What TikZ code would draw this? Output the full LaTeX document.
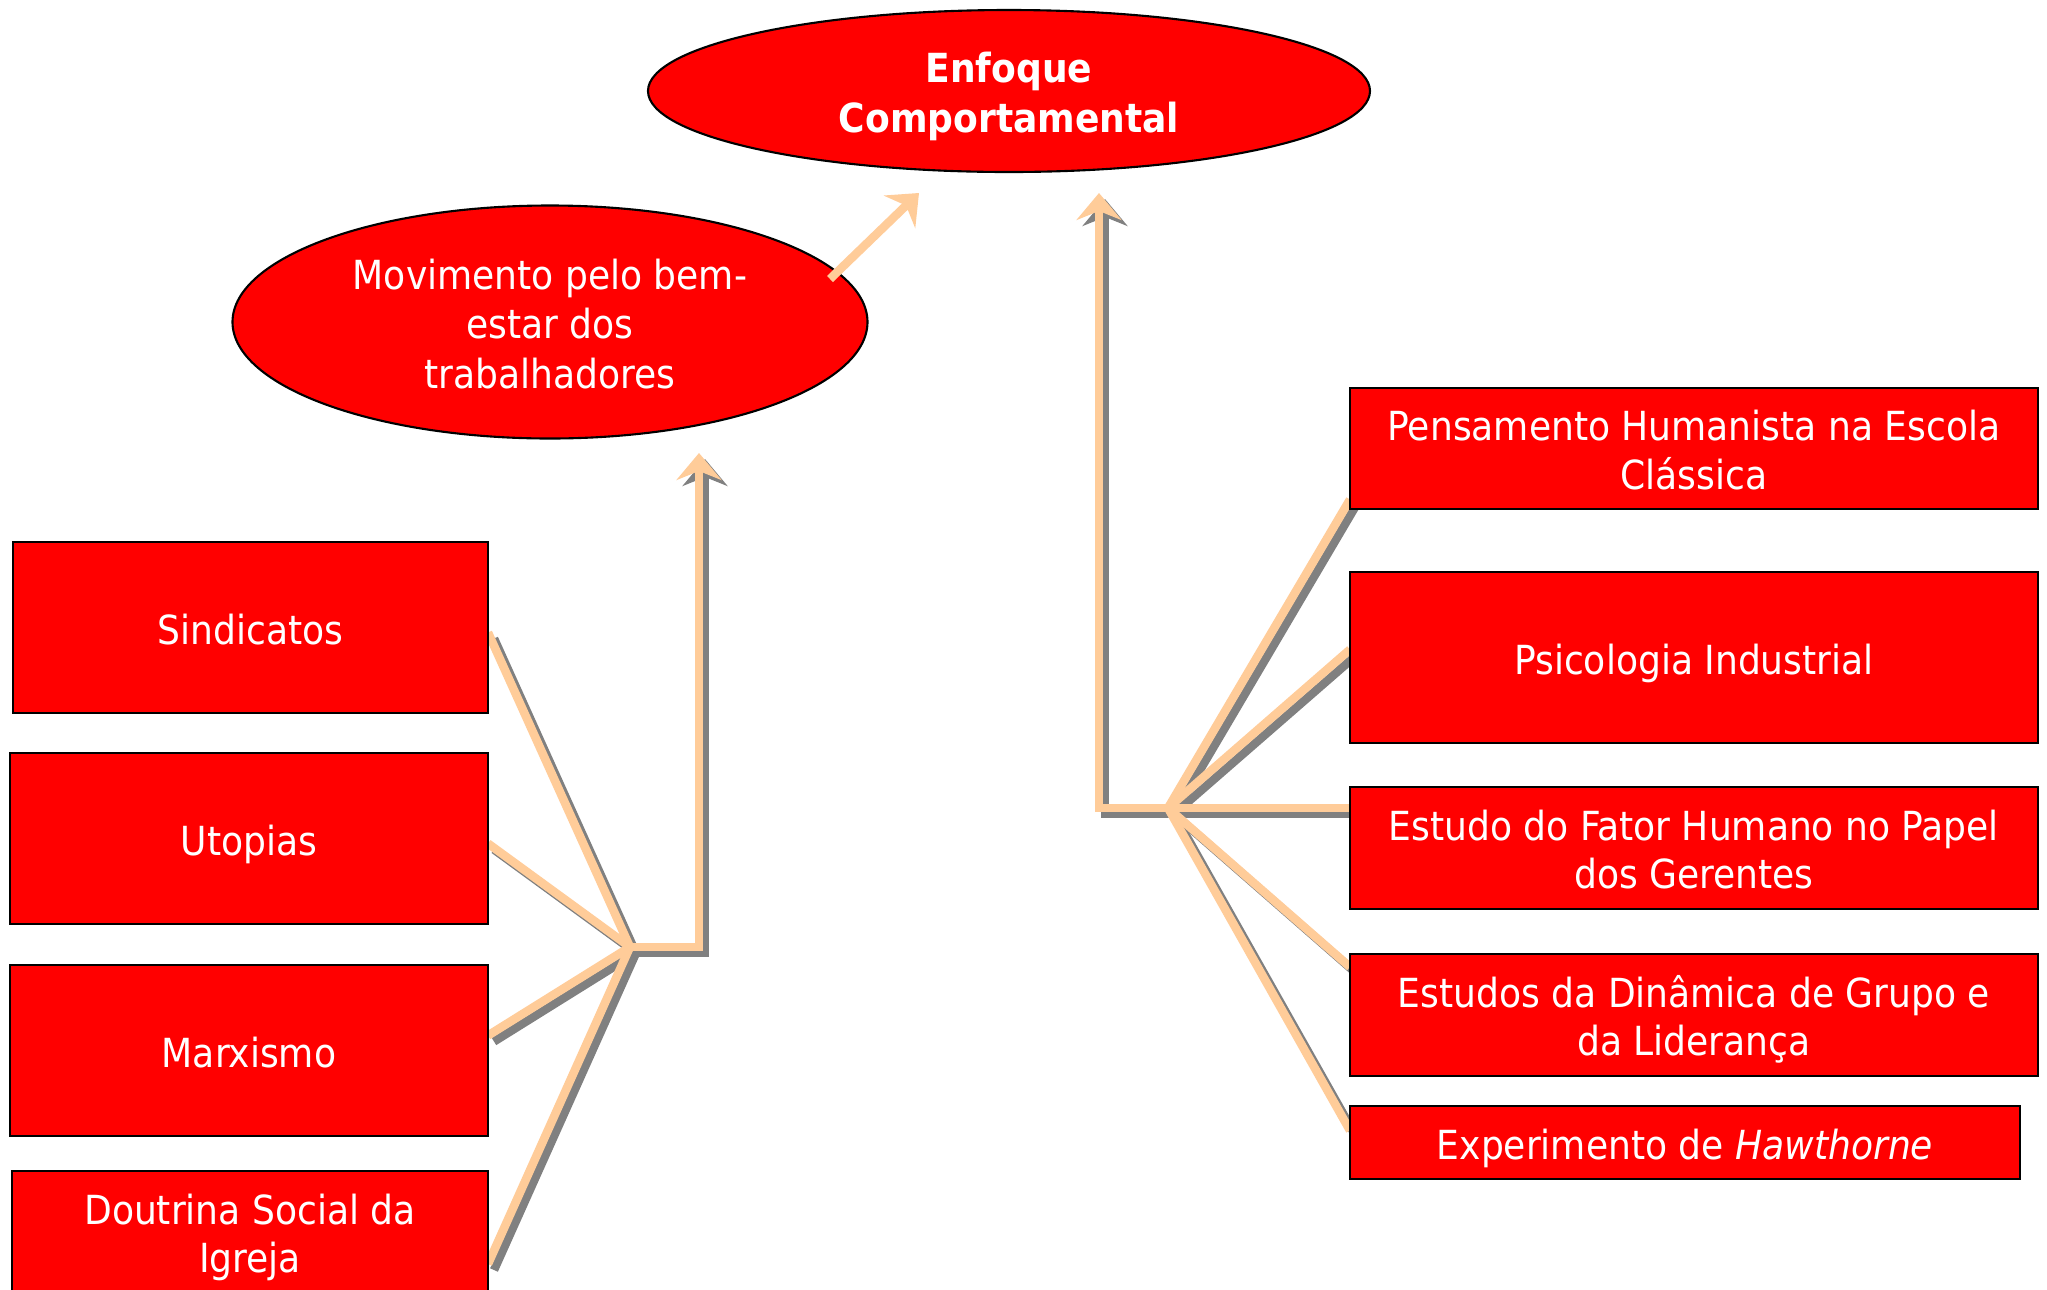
\documentclass[tikz,border=0pt]{standalone}
\usepackage{fontspec}
\setmainfont{DejaVuSansCondensed.ttf}[BoldFont=DejaVuSansCondensed-Bold.ttf,ItalicFont=DejaVuSansCondensed-Oblique.ttf]
\usetikzlibrary{shapes.geometric,arrows.meta,calc}
\definecolor{boxred}{HTML}{FF0000}
\definecolor{peach}{HTML}{FFCC99}
\definecolor{shadowgray}{HTML}{808080}
\pgfdeclarelayer{background}
\pgfsetlayers{background,main}
\newcommand\boxfont{\fontsize{11.4pt}{13.75pt}\selectfont}
\newcommand\ellfont{\fontsize{11.4pt}{14.1pt}\selectfont}
\newcommand\tb[1]{\rule{0pt}{12.44pt}#1\rule[-3pt]{0pt}{3pt}}
\begin{document}
\begin{tikzpicture}[x=0.01cm,y=-0.01cm,
  box/.style={draw=black,line width=0.6pt,fill=boxred,text=white,inner sep=0pt,outer sep=0pt,
    anchor=north west,align=center,font=\boxfont},
  ell/.style={ellipse,draw=black,line width=0.6pt,fill=boxred,text=white,inner sep=0pt,outer sep=0pt,
    align=center,font=\ellfont},
  peachline/.style={draw=peach,line width=0.085cm},
  shadowline/.style={draw=shadowgray,line width=0.085cm,transform canvas={shift={(0.06cm,-0.06cm)}}},
  tip/.style={-{Stealth[length=0.27cm,width=0.45cm,inset=0.09cm]}}
]
\useasboundingbox (0,0) rectangle (2047,1290);
\begin{pgfonlayer}{background}
\fill[white] (0,0) rectangle (2047,1290);
\end{pgfonlayer}

% ellipses
\node[ell,minimum width=722*0.01cm,minimum height=162*0.01cm] (enf) at (1009,91) {\tb{\textbf{Enfoque}\\\textbf{Comportamental}}};
\node[ell,minimum width=635*0.01cm,minimum height=233*0.01cm] (mov) at (550,322) {\tb{Movimento pelo bem-\\estar dos\\trabalhadores}};

% left boxes
\node[box,minimum width=475*0.01cm,minimum height=171*0.01cm] (sind) at (13,542) {\tb{Sindicatos}};
\node[box,minimum width=478*0.01cm,minimum height=171*0.01cm] (utop) at (10,753) {\tb{Utopias}};
\node[box,minimum width=478*0.01cm,minimum height=171*0.01cm] (marx) at (10,965) {\tb{Marxismo}};
\node[box,minimum width=476*0.01cm,minimum height=122*0.01cm] (dout) at (12,1171) {\tb{Doutrina Social da\\Igreja}};

% right boxes
\node[box,minimum width=688*0.01cm,minimum height=121*0.01cm] (pens) at (1350,388) {\tb{Pensamento Humanista na Escola\\Clássica}};
\node[box,minimum width=688*0.01cm,minimum height=171*0.01cm] (psic) at (1350,572) {\tb{Psicologia Industrial}};
\node[box,minimum width=688*0.01cm,minimum height=122*0.01cm] (fator) at (1350,787) {\tb{Estudo do Fator Humano no Papel\\dos Gerentes}};
\node[box,minimum width=688*0.01cm,minimum height=122*0.01cm] (din) at (1350,954) {\tb{Estudos da Dinâmica de Grupo e\\da Liderança}};
\node[box,minimum width=670*0.01cm,minimum height=73*0.01cm] (haw) at (1350,1106) {\tb{Experimento de \textit{Hawthorne}}};

% connector coordinates
\coordinate (lh) at (630,947);
\coordinate (lc) at (699,947);
\coordinate (ltip) at (699,453);
\coordinate (rh) at (1168,808);
\coordinate (rc) at (1099,808);
\coordinate (rtip) at (1099,193);
\coordinate (mstart) at (830,279);
\coordinate (mtip) at (919,193);

\begin{pgfonlayer}{background}
% shadows
\draw[shadowline] ($(sind.east)+(0,5)$) -- (lh);
\draw[shadowline] ($(utop.east)+(0,5)$) -- (lh);
\draw[shadowline] ($(marx.east)+(0,-15)$) -- (lh);
\draw[shadowline] ($(dout.east)+(0,32)$) -- (lh);
\draw[shadowline,tip] (lh) -- (lc) -- (ltip);
\draw[shadowline] ($(pens.west)+(0,51)$) -- (rh);
\draw[shadowline] ($(psic.west)+(0,-8)$) -- (rh);
\draw[shadowline] ($(din.west)+(0,-48)$) -- (rh);
\draw[shadowline] ($(haw.west)+(0,-12)$) -- (rh);
\draw[shadowline,tip] (fator.west |- rc) -- (rc) -- (rtip);

% peach lines
\draw[peachline] ($(sind.east)+(0,5)$) -- (lh);
\draw[peachline] ($(utop.east)+(0,5)$) -- (lh);
\draw[peachline] ($(marx.east)+(0,-15)$) -- (lh);
\draw[peachline] ($(dout.east)+(0,32)$) -- (lh);
\draw[peachline,tip] (lh) -- (lc) -- (ltip);
\draw[peachline] ($(pens.west)+(0,51)$) -- (rh);
\draw[peachline] ($(psic.west)+(0,-8)$) -- (rh);
\draw[peachline] ($(din.west)+(0,-48)$) -- (rh);
\draw[peachline] ($(haw.west)+(0,-12)$) -- (rh);
\draw[peachline,tip] (fator.west |- rc) -- (rc) -- (rtip);
\end{pgfonlayer}
\draw[peachline,tip] (mstart) -- (mtip);
\end{tikzpicture}
\end{document}
